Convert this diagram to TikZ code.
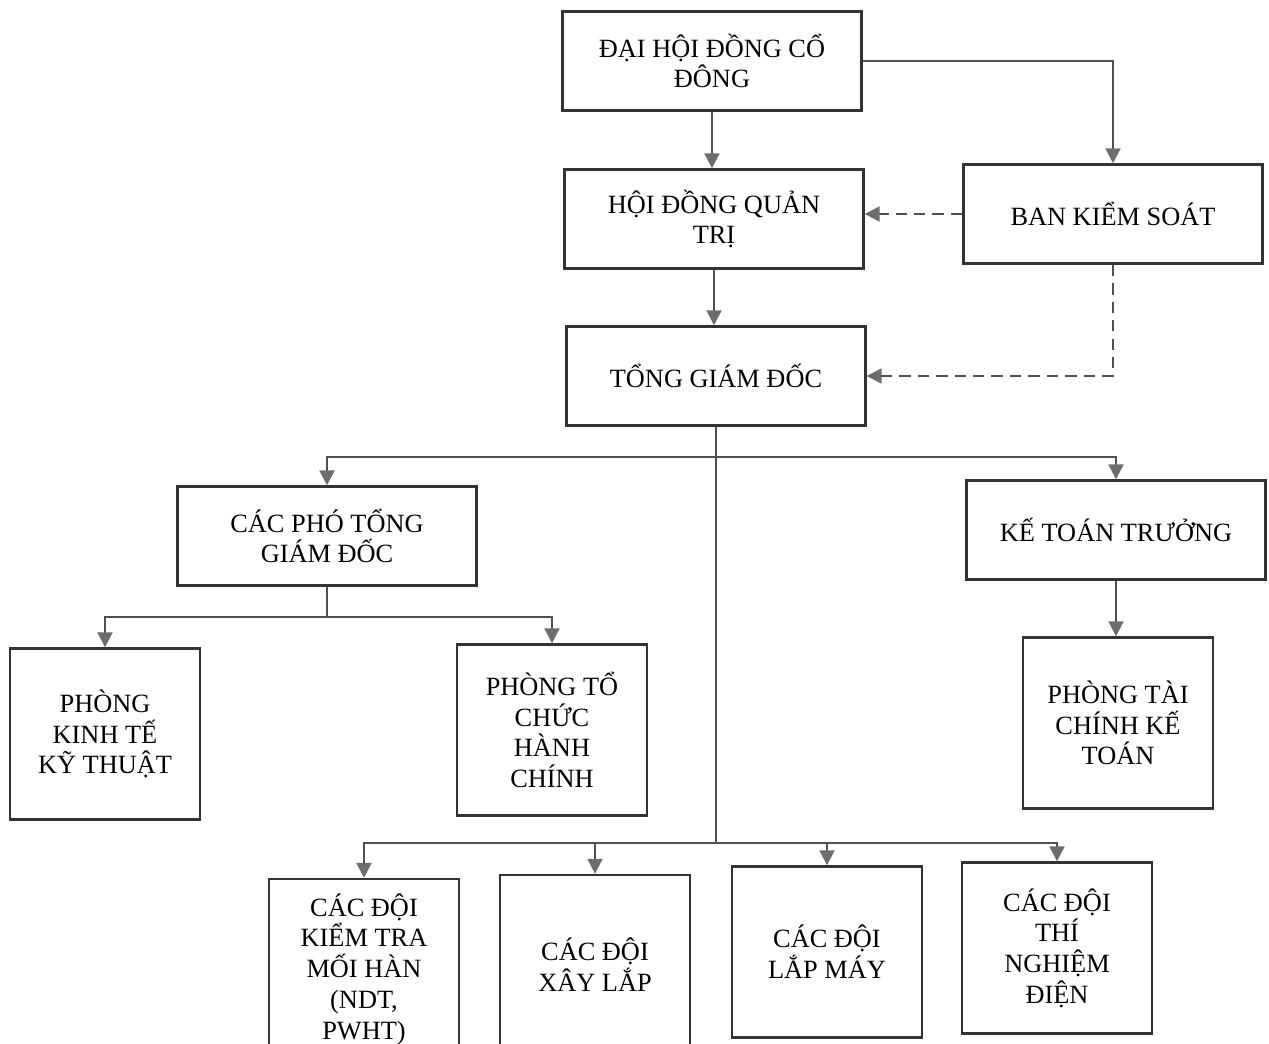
\documentclass[tikz,border=0pt]{standalone}
\usepackage{fontspec}
\setmainfont{Liberation Serif}
\usepackage{xcolor}
\usetikzlibrary{arrows.meta}

\definecolor{boxline}{HTML}{333333}
\definecolor{linkline}{HTML}{505050}
\definecolor{tipfill}{HTML}{6A6E73}

\begin{document}
\begin{tikzpicture}[x=0.02cm,y=-0.02cm,
    box/.style={draw=boxline,line width=1.4pt,fill=white,align=center,inner sep=2pt,
      font=\fontsize{15pt}{17.5pt}\selectfont},
    wide/.style={box,minimum width=5.98cm,minimum height=1.98cm},
    tall/.style={box,minimum width=3.8cm,minimum height=3.42cm},
    link/.style={draw=linkline,line width=1.2pt,
      -{Triangle[width=8.5pt,length=8.5pt,fill=tipfill,color=tipfill]}},
    watch/.style={link,dash pattern=on 6.5pt off 4pt}]
  \clip (0,0) rectangle (1269,1044);
  \fill[white] (0,0) rectangle (1269,1044);

  \node[wide] (dhcd) at (712,61) {ĐẠI HỘI ĐỒNG CỔ\\ĐÔNG};
  \node[wide] (hdqt) at (714,219) {HỘI ĐỒNG QUẢN\\TRỊ};
  \node[wide] (bks) at (1113,214) {BAN KIỂM SOÁT};
  \node[wide] (tgd) at (716,376) {TỔNG GIÁM ĐỐC};
  \node[wide] (pho) at (327,536) {CÁC PHÓ TỔNG\\GIÁM ĐỐC};
  \node[wide] (ktt) at (1116,530) {KẾ TOÁN TRƯỞNG};

  \node[tall] (pktkt) at (105,734) {PHÒNG\\KINH TẾ\\KỸ THUẬT};
  \node[tall] (ptchc) at (552,730) {PHÒNG TỔ\\CHỨC\\HÀNH\\CHÍNH};
  \node[tall] (ptckt) at (1118,723) {PHÒNG TÀI\\CHÍNH KẾ\\TOÁN};

  \node[tall,minimum height=3.6cm] (dkt) at (364,969) {CÁC ĐỘI\\KIỂM TRA\\MỐI HÀN\\(NDT,\\PWHT)};
  \node[tall,minimum height=3.6cm] (dxl) at (595,965) {CÁC ĐỘI\\XÂY LẮP};
  \node[tall] (dlm) at (827,952) {CÁC ĐỘI\\LẮP MÁY};
  \node[tall] (dtn) at (1057,948) {CÁC ĐỘI\\THÍ\\NGHIỆM\\ĐIỆN};

  \coordinate (split1) at (716,457);
  \coordinate (split2) at (716,843);
  \coordinate (split3) at (327,617);

  \draw[link] (dhcd.south) -- (dhcd.south |- hdqt.north);
  \draw[link] (dhcd.east) -| (bks.north);
  \draw[link] (hdqt.south) -- (hdqt.south |- tgd.north);
  \draw[watch] (bks.west) -- (bks.west -| hdqt.east);
  \draw[watch] (bks.south) |- (tgd.east);

  \draw[draw=linkline,line width=1.2pt] (tgd.south) -- (split2);
  \draw[link] (split1) -| (pho.north);
  \draw[link] (split1) -| (ktt.north);
  \draw[link] (ktt.south) -- (ktt.south |- ptckt.north);

  \draw[draw=linkline,line width=1.2pt] (pho.south) -- (split3);
  \draw[link] (split3) -| (pktkt.north);
  \draw[link] (split3) -| (ptchc.north);

  \foreach \team in {dkt,dxl,dlm,dtn}
    \draw[link] (split2) -| (\team.north);
\end{tikzpicture}
\end{document}
